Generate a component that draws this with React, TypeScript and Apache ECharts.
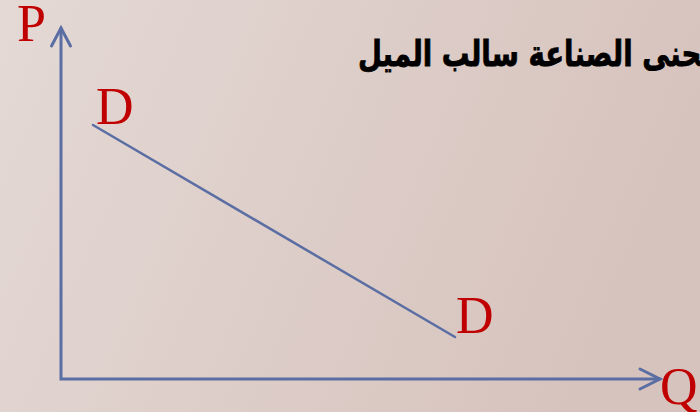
import React, { useEffect, useRef } from "react";
import * as echarts from "echarts";

// Data in chart units (x: 0–700 left→right, y: 0–412 bottom→top)
const xRange = [0, 700];
const yRange = [0, 412];
const axesPath = [[61, 384], [61, 33], [660, 33]];
const demandLine = [[93, 287], [455, 75]];
const xArrowHead = [[640, 43], [660, 33], [640, 23]];
const yArrowHead = [[51.5, 366], [61, 384], [70.5, 366]];
const priceLabel = "P";
const quantityLabel = "Q";
const curveLabel = "D";
const title = "منحنى الصناعة سالب الميل";

const AXIS_COLOR = "#5b6ea3";
const LABEL_COLOR = "#c00000";

export default function App() {
  const ref = useRef<HTMLDivElement>(null);
  useEffect(() => {
    if (!ref.current) return;
    const chart = echarts.init(ref.current, undefined, { renderer: "svg" });
    const serif = "'Liberation Serif', 'Times New Roman', serif";
    const labelStyle = (text: string) => ({
      text,
      fill: LABEL_COLOR,
      font: `52px ${serif}`,
      textAlign: "left",
      textVerticalAlign: "middle",
    });
    const lineSeries = (data: number[][], width: number) => ({
      type: "line",
      data,
      symbol: "none",
      clip: false,
      silent: true,
      lineStyle: { color: AXIS_COLOR, width, join: "miter", cap: "round" },
    });
    chart.setOption({
      animation: false,
      backgroundColor: new echarts.graphic.LinearGradient(0, 0, 1, 0.25, [
        { offset: 0, color: "#e4d9d5" },
        { offset: 1, color: "#d7c3bd" },
      ]),
      grid: { left: 0, top: 0, right: 0, bottom: 0, containLabel: false },
      xAxis: { type: "value", min: xRange[0], max: xRange[1], show: false },
      yAxis: { type: "value", min: yRange[0], max: yRange[1], show: false },
      series: [
        lineSeries(axesPath, 3),
        lineSeries(xArrowHead, 3),
        lineSeries(yArrowHead, 3),
        lineSeries(demandLine, 2.5),
      ],
      graphic: [
        { type: "text", x: 17, y: 23.5, style: labelStyle(priceLabel) },
        { type: "text", x: 96, y: 106.5, style: labelStyle(curveLabel) },
        { type: "text", x: 456, y: 315.5, style: labelStyle(curveLabel) },
        { type: "text", x: 660, y: 386, style: labelStyle(quantityLabel) },
        {
          type: "text",
          x: 358,
          y: 53.5,
          scaleX: 0.92,
          scaleY: 1.2,
          style: {
            text: title,
            fill: "#000000",
            stroke: "#000000",
            lineWidth: 0.7,
            font: "bold 30px 'DejaVu Sans', sans-serif",
            textAlign: "left",
            textVerticalAlign: "middle",
          },
        },
      ],
    });
    return () => chart.dispose();
  }, []);
  return (
    <div
      ref={ref}
      style={{ position: "fixed", left: 0, top: 0, width: 700, height: 412 }}
    />
  );
}
